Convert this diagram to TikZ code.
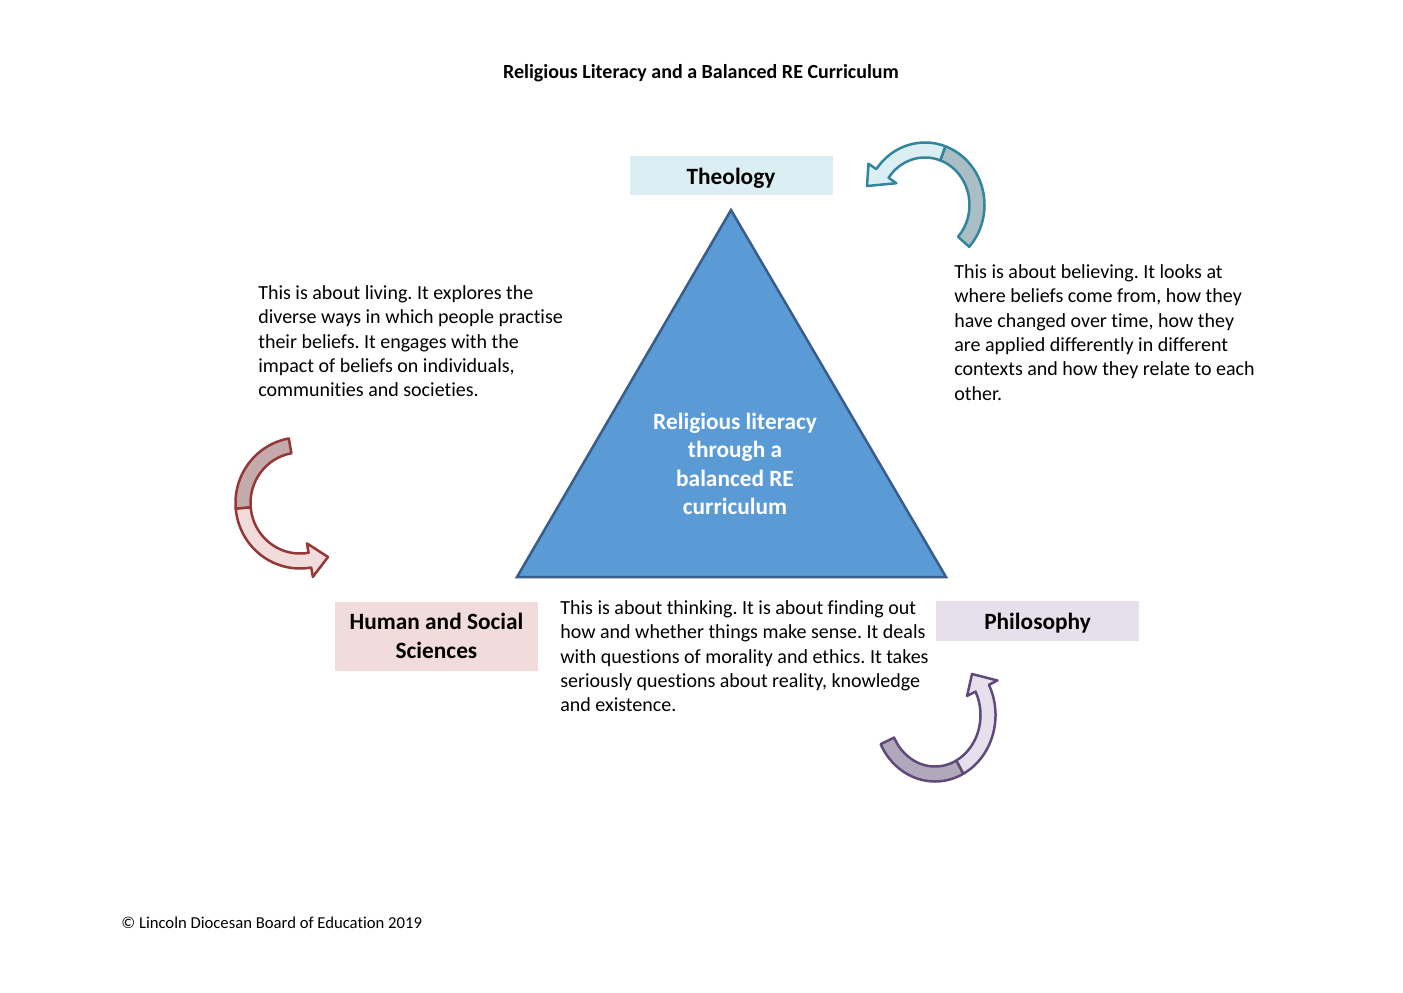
\documentclass[tikz,border=0pt]{standalone}
\usepackage{fontspec}
\setmainfont{Carlito}[Ligatures=NoCommon]
\usepackage{tikz}
\frenchspacing

\definecolor{theoline}{HTML}{31859C}
\definecolor{theoback}{HTML}{A9BEC5}
\definecolor{theofront}{HTML}{DBEEF4}
\definecolor{hssline}{HTML}{953735}
\definecolor{hssback}{HTML}{C4AAAA}
\definecolor{hssfront}{HTML}{F2DCDB}
\definecolor{philline}{HTML}{604A7B}
\definecolor{philback}{HTML}{B1A8BC}
\definecolor{philfront}{HTML}{E6E0EC}
\definecolor{trifill}{HTML}{5B9BD5}
\definecolor{triline}{HTML}{385D8A}

% curved block arrow: centre, rx, ry, start, split, end angle, tip (from centre), colour
\newcommand\bentarrow[8]{%
  \pgfmathsetmacro\rxo{#2+7.5}
  \pgfmathsetmacro\ryo{#3+7.5}
  \pgfmathsetmacro\rxi{#2-7.5}
  \pgfmathsetmacro\ryi{#3-7.5}
  \pgfmathsetmacro\rxh{#2+17}
  \pgfmathsetmacro\ryh{#3+17}
  \pgfmathsetmacro\rxk{#2-17}
  \pgfmathsetmacro\ryk{#3-17}
  \begin{scope}[shift={#1}]
    \filldraw[draw=#8line, fill=#8back, line width=1.5pt, line join=round]
      (#4:{\rxo} and {\ryo}) arc[start angle=#4, end angle=#5, x radius=\rxo, y radius=\ryo]
      -- (#5:{\rxi} and {\ryi}) arc[start angle=#5, end angle=#4, x radius=\rxi, y radius=\ryi]
      -- cycle;
    \filldraw[draw=#8line, fill=#8front, line width=1.5pt, line join=round]
      (#5:{\rxo} and {\ryo}) arc[start angle=#5, end angle=#6, x radius=\rxo, y radius=\ryo]
      -- (#6:{\rxh} and {\ryh}) -- #7 -- (#6:{\rxk} and {\ryk})
      -- (#6:{\rxi} and {\ryi}) arc[start angle=#6, end angle=#5, x radius=\rxi, y radius=\ryi]
      -- cycle;
  \end{scope}}

\begin{document}
\begin{tikzpicture}[x=0.6pt, y=-0.6pt,
    body/.style={align=left, anchor=north west, inner sep=0pt,
      font=\fontsize{12}{14.65}\selectfont},
    headbox/.style={minimum width=121.8pt, inner sep=0pt, align=center,
      font=\bfseries\fontsize{14}{17}\selectfont}]
        \useasboundingbox (0,0) rectangle (1403,992);
        \coordinate (T) at (731,210);
        \coordinate (L) at (517,577);
        \coordinate (R) at (946,577);
        \node (title) at (701,73) {\bfseries\fontsize{12}{14}\selectfont Religious Literacy and a Balanced RE Curriculum};
        \draw[fill=trifill, draw=triline, line width=1.5pt, line join=miter] (T) -- (L) -- (R) -- cycle;
        \node[align=center, text=white, font=\bfseries\fontsize{14}{17.1}\selectfont] (core) at (735,464)
          {Religious literacy\\through a\\balanced RE\\curriculum};
        \node[headbox, fill=theofront, minimum height=23.4pt, text height=12pt, text depth=1.2pt] (theo) at (731,175.5) {Theology};
        \node[headbox, fill=hssfront, minimum height=41.4pt] (hss) at (436.5,636) {Human and Social\\Sciences};
        \node[headbox, fill=philfront, minimum height=24pt, text height=11.8pt, text depth=1.2pt] (phil) at (1037.5,621) {Philosophy};
        \node[body] (living) at (258,285) {This is about living. It explores the\\diverse ways in which people practise\\their beliefs. It engages with the\\impact of beliefs on individuals,\\communities and societies.};
        \node[body] (believing) at (954,264) {This is about believing. It looks at\\where beliefs come from, how they\\have changed over time, how they\\are applied differently in different\\contexts and how they relate to each\\other.};
        \node[body] (thinking) at (560,600) {This is about thinking. It is about finding out\\how and whether things make sense. It deals\\with questions of morality and ethics. It takes\\seriously questions about reality, knowledge\\and existence.};
        \bentarrow{(925,205)}{52}{55}{42}{-70}{-145}{(-58,-19)}{theo}
        \bentarrow{(300,503)}{57}{58}{-100}{-185}{-280}{(28,54)}{hss}
        \bentarrow{(935,715)}{53}{59}{154}{62}{-27}{(37,-41)}{phil}
        \node[anchor=west, inner sep=0pt, font=\fontsize{10}{12}\selectfont] (credit) at (121,923) {© Lincoln Diocesan Board of Education 2019};
    \end{tikzpicture}
\end{document}
